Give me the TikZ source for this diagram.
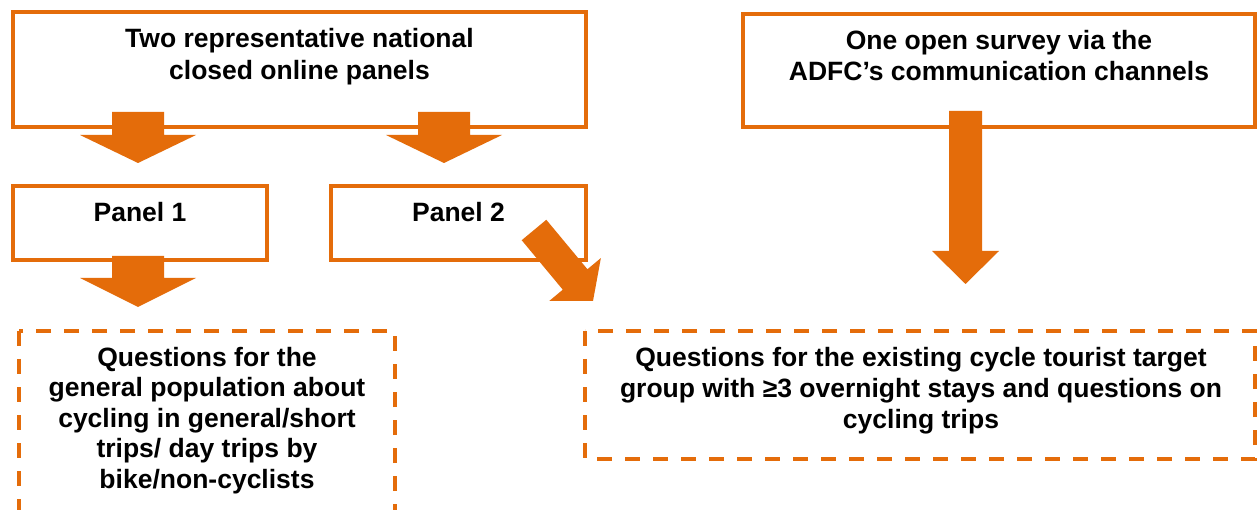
\documentclass[tikz,border=0pt]{standalone}
\usepackage{fontspec}
\setmainfont{Liberation Sans}
\usetikzlibrary{calc}
\definecolor{adfcorange}{HTML}{E46C0A}
\newcommand{\myblockarrow}[5]{%
  \coordinate (mbB) at ($(#2)!#5!(#1)$);
  \fill[arrowfill] ($(#1)!#3!90:(#2)$) -- ($(mbB)!#3!90:(#2)$) -- ($(mbB)!#4!90:(#2)$) -- (#2)
    -- ($(mbB)!#4!-90:(#2)$) -- ($(mbB)!#3!-90:(#2)$) -- ($(#1)!#3!-90:(#2)$) -- cycle;}
\begin{document}
\begin{tikzpicture}[x=1pt,y=-1pt,
  solidbox/.style={draw=adfcorange, line width=4pt, rectangle, inner sep=0pt},
  dashbox/.style={draw=adfcorange, line width=4pt, dash pattern=on 15pt off 13pt},
  arrowfill/.style={fill=adfcorange},
  txt/.style={font=\fontsize{26.5pt}{31pt}\selectfont\bfseries, align=center, anchor=base, inner sep=0pt, text=black}]
\clip (0,0) rectangle (1258,510);
\fill[white] (0,0) rectangle (1258,510);
% solid boxes
\node[solidbox, minimum width=573pt, minimum height=115pt] (A) at (299.5,69.5) {};
\node[solidbox, minimum width=512pt, minimum height=113pt] (B) at (999,70.5) {};
\node[solidbox, minimum width=254pt, minimum height=74pt] (P1) at (140,223) {};
\node[solidbox, minimum width=255pt, minimum height=74pt] (P2) at (458.5,223) {};
% dashed boxes
\draw[dashbox] (19,331) rectangle (395,545);
\draw[dashbox] (585,331) rectangle (1255,459);
% texts (anchor = baseline of the last line)
\node[txt] (At) at (299.5,80) {Two representative national\\[1pt]closed online panels};
\node[txt] (Bt) at (999,81) {One open survey via the\\ADFC’s communication channels};
\node[txt] (P1t) at (140,222) {Panel 1};
\node[txt] (P2t) at (458.5,222) {Panel 2};
\node[txt, font=\fontsize{26.5pt}{30.5pt}\selectfont\bfseries] (Lt) at (207,488) {Questions for the\\general population about\\cycling in general/short\\trips/ day trips by\\bike/non-cyclists};
\node[txt] (Rt) at (921,428) {Questions for the existing cycle tourist target\\group with ≥3 overnight stays and questions on\\cycling trips};
% arrows
\coordinate (a1s) at (138,112); \coordinate (a1t) at (138,163);
\coordinate (a2s) at (444,112); \coordinate (a2t) at (444,163);
\coordinate (a3s) at (138,256); \coordinate (a3t) at (138,307);
\coordinate (a4s) at (965.5,111); \coordinate (a4t) at (965.5,284);
\coordinate (a5s) at (534,230); \coordinate (a5t) at (593,301);
\myblockarrow{a1s}{a1t}{26pt}{58pt}{28pt}
\myblockarrow{a2s}{a2t}{26pt}{58pt}{28pt}
\myblockarrow{a3s}{a3t}{26pt}{58pt}{29pt}
\myblockarrow{a4s}{a4t}{16.5pt}{33.5pt}{33pt}
\myblockarrow{a5s}{a5t}{16pt}{33.5pt}{28pt}
\end{tikzpicture}
\end{document}
